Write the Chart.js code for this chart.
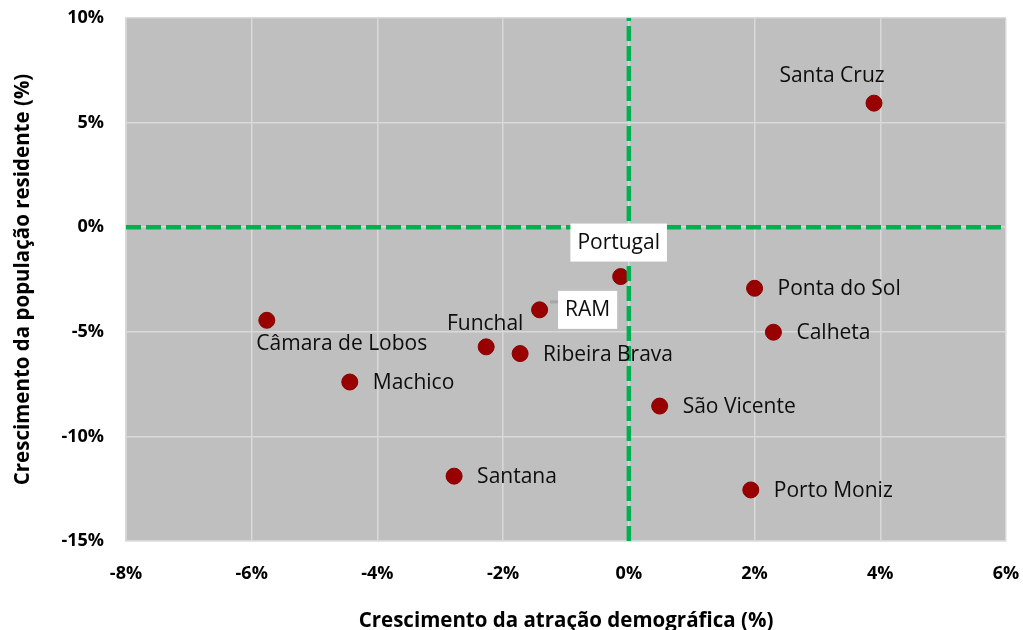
<!DOCTYPE html>
<html>
<head>
<meta charset="utf-8">
<script src="https://cdn.jsdelivr.net/npm/chart.js@4"></script>
<style>
  html, body { margin: 0; padding: 0; background: #fff; }
  #wrap { width: 1023px; height: 630px; }
</style>
</head>
<body>
<div id="wrap"><canvas id="chart"></canvas></div>
<script>
// dados
const places = ['Santa Cruz', 'Portugal', 'Ponta do Sol', 'RAM', 'Calheta', 'Câmara de Lobos',
                'Funchal', 'Ribeira Brava', 'Machico', 'São Vicente', 'Santana', 'Porto Moniz'];
const attraction = [3.90, -0.13, 2.00, -1.42, 2.30, -5.76, -2.27, -1.73, -4.44, 0.49, -2.78, 1.94];
const residents = [5.93, -2.36, -2.92, -3.95, -5.02, -4.45, -5.72, -6.04, -7.40, -8.55, -11.90, -12.56];
const xTicks = [-8, -6, -4, -2, 0, 2, 4, 6];
const yTicks = [-15, -10, -5, 0, 5, 10];
const zeroX = [0, 0];
const zeroY = [0, 0];

const FONT = '"Open Sans", Lato, sans-serif';

// posição das etiquetas relativamente ao ponto
const labelStyle = {
  'Santa Cruz': { dx: -42, dy: -27, align: 'center' },
  'Portugal': { dx: -2, dy: -34, align: 'center', box: true },
  'RAM': { dx: 48, dy: 0, align: 'center', box: true, leader: true },
  'Funchal': { dx: -1, dy: -23, align: 'center' },
  'Câmara de Lobos': { dx: 75, dy: 24, align: 'center' }
};
const defaultLabel = { dx: 23, dy: 1, align: 'left' };

const plotBackground = {
  id: 'plotBackground',
  beforeDraw(chart) {
    const { ctx, chartArea: a } = chart;
    ctx.save();
    ctx.fillStyle = '#bfbfbf';
    ctx.fillRect(a.left, a.top, a.right - a.left, a.bottom - a.top);
    ctx.restore();
  }
};

const pointLabels = {
  id: 'pointLabels',
  afterDatasetsDraw(chart) {
    const ctx = chart.ctx;
    const meta = chart.getDatasetMeta(2);
    ctx.save();
    ctx.font = '21px ' + FONT;
    ctx.textBaseline = 'middle';
    meta.data.forEach((pt, i) => {
      const name = places[i];
      const s = labelStyle[name] || defaultLabel;
      const x = pt.x + s.dx, y = pt.y + s.dy;
      const w = ctx.measureText(name).width;
      const left = s.align === 'center' ? x - w / 2 : x;
      if (s.box) {
        ctx.fillStyle = '#fff';
        ctx.fillRect(left - 7, y - 19, w + 14, 38);
      }
      if (s.leader) {
        ctx.strokeStyle = '#a6a6a6';
        ctx.lineWidth = 3;
        ctx.beginPath();
        ctx.moveTo(left - 15, y - 8);
        ctx.lineTo(left - 7, y - 8);
        ctx.stroke();
      }
      ctx.fillStyle = '#0d0d0d';
      ctx.textAlign = 'left';
      ctx.fillText(name, left, y);
    });
    ctx.restore();
  }
};

const dashed = {
  type: 'line',
  borderColor: '#00b050',
  borderWidth: 4.5,
  borderDash: [15, 5],
  pointRadius: 0,
  fill: false
};

// sem margens automáticas das etiquetas: a área do gráfico fica fixada pelo layout
function noScalePadding(s) {
  s.paddingTop = 0;
  s.paddingBottom = 0;
  s.paddingLeft = 0;
  s.paddingRight = 0;
}

new Chart(document.getElementById('chart'), {
  type: 'scatter',
  data: {
    datasets: [
      Object.assign({}, dashed, {
        data: zeroX.map((v, i) => ({ x: v, y: [yTicks[0], yTicks[yTicks.length - 1]][i] }))
      }),
      Object.assign({}, dashed, {
        data: zeroY.map((v, i) => ({ x: [xTicks[0], xTicks[xTicks.length - 1]][i], y: v }))
      }),
      {
        data: places.map((p, i) => ({ x: attraction[i], y: residents[i] })),
        backgroundColor: '#990000',
        borderColor: '#8a0000',
        borderWidth: 1,
        pointRadius: 8
      }
    ]
  },
  options: {
    responsive: true,
    maintainAspectRatio: false,
    animation: false,
    layout: { padding: { top: 18, right: 17, left: 0, bottom: 0 } },
    plugins: { legend: { display: false }, tooltip: { enabled: false } },
    scales: {
      x: {
        type: 'linear',
        min: xTicks[0],
        max: xTicks[xTicks.length - 1],
        afterBuildTicks: s => { s.ticks = xTicks.map(v => ({ value: v })); },
        afterFit: s => { s.height = 89; noScalePadding(s); },
        grid: { color: '#d9d9d9', lineWidth: 1.5, drawTicks: false },
        border: { color: '#d9d9d9', width: 1.5 },
        ticks: {
          padding: 22,
          color: '#000',
          font: { family: FONT, size: 18, weight: 'bold' },
          callback: v => v + '%'
        },
        title: {
          display: true,
          text: 'Crescimento da atração demográfica (%)',
          color: '#000',
          font: { family: FONT, size: 20.5, weight: 'bold', lineHeight: 1.2 },
          padding: { top: 0, bottom: -3 }
        }
      },
      y: {
        type: 'linear',
        min: yTicks[0],
        max: yTicks[yTicks.length - 1],
        afterBuildTicks: s => { s.ticks = yTicks.map(v => ({ value: v })); },
        afterFit: s => { s.width = 126; noScalePadding(s); },
        grid: { color: '#d9d9d9', lineWidth: 1.5, drawTicks: false },
        border: { color: '#d9d9d9', width: 1.5 },
        ticks: {
          padding: 22,
          color: '#000',
          font: { family: FONT, size: 18, weight: 'bold' },
          callback: v => v + '%'
        },
        title: {
          display: true,
          text: 'Crescimento da população residente (%)',
          color: '#000',
          font: { family: FONT, size: 20.5, weight: 'bold', lineHeight: 1.2 },
          padding: { top: 11, bottom: 0 }
        }
      }
    }
  },
  plugins: [plotBackground, pointLabels]
});
</script>
</body>
</html>
